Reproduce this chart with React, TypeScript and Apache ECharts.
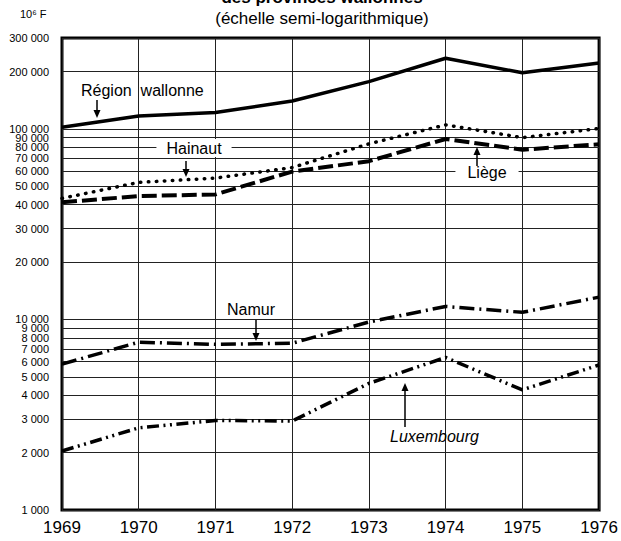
import React, { useEffect, useRef } from "react";
import * as echarts from "echarts";

const years = ["1969", "1970", "1971", "1972", "1973", "1974", "1975", "1976"];
const regionWallonne = [102000, 117000, 122000, 140000, 177000, 235000, 197000, 222000];
const hainaut = [43200, 52400, 55200, 62700, 83500, 105000, 90000, 100500];
const liege = [41200, 44400, 45300, 59700, 67700, 88500, 77800, 83000];
const namur = [5830, 7600, 7400, 7500, 9700, 11700, 10900, 13100];
const luxembourg = [2040, 2700, 2950, 2930, 4620, 6320, 4270, 5770];
const gridValues = [
  1000, 2000, 3000, 4000, 5000, 6000, 7000, 8000, 9000,
  10000, 20000, 30000, 40000, 50000, 60000, 70000, 80000, 90000,
  100000, 200000, 300000,
];

const FONT = '"Liberation Sans", Arial, Helvetica, sans-serif';

const fmt = (v: number) => String(v).replace(/\B(?=(\d{3})+(?!\d))/g, " ");

function arrow(x: number, yFrom: number, yTo: number) {
  const dir = yTo > yFrom ? 1 : -1;
  return [
    {
      type: "line",
      z: 100,
      shape: { x1: x, y1: yFrom, x2: x, y2: yTo - dir * 6 },
      style: { stroke: "#000", lineWidth: 1.5 },
    },
    {
      type: "polygon",
      z: 100,
      shape: { points: [[x - 3.5, yTo - dir * 8], [x + 3.5, yTo - dir * 8], [x, yTo]] },
      style: { fill: "#000" },
    },
  ];
}

function label(text: string, x: number, y: number, opts: any = {}) {
  return {
    type: "text",
    z: 100,
    x,
    y,
    style: {
      text,
      fontSize: opts.size || 16,
      fontFamily: FONT,
      fill: "#000",
      align: opts.align || "center",
      verticalAlign: "middle",
      backgroundColor: opts.bg ? "#fff" : undefined,
      padding: opts.bg ? [1, opts.pad || 6] : 0,
      fontStyle: opts.italic ? "italic" : "normal",
      fontWeight: opts.bold ? "bold" : "normal",
    },
  };
}

export default function App() {
  const ref = useRef<HTMLDivElement>(null);
  useEffect(() => {
    if (!ref.current) return;
    const chart = echarts.init(ref.current, null, { renderer: "svg" });
    const mk = (name: string, data: number[], type: any, width: number, cap: any = "butt", withGrid = false) => {
      const s: any = {
        name,
        type: "line",
        data,
        symbol: "none",
        lineStyle: { color: "#000", width, type, cap },
        z: 5,
      };
      if (withGrid) {
        s.markLine = {
          silent: true,
          symbol: ["none", "none"],
          z: 1,
          lineStyle: { type: "solid", color: "#222", width: 1 },
          label: {
            position: "start",
            distance: 13,
            formatter: (p: any) => fmt(p.value),
            fontSize: 11,
            fontFamily: FONT,
            color: "#000",
          },
          emphasis: { disabled: true },
          data: gridValues.map((v) => ({ yAxis: v })),
        };
      }
      return s;
    };
    chart.setOption({
      animation: false,
      backgroundColor: "#fff",
      grid: {
        left: 62,
        right: 21,
        top: 38,
        bottom: 31,
        show: true,
        borderColor: "#000",
        borderWidth: 3,
        backgroundColor: "transparent",
      },
      xAxis: {
        type: "category",
        data: years,
        boundaryGap: false,
        axisLine: { show: false },
        axisTick: { show: false },
        axisLabel: { color: "#000", fontSize: 17, fontFamily: FONT, margin: 9 },
        splitLine: { show: true, lineStyle: { color: "#222", width: 1 } },
      },
      yAxis: {
        type: "log",
        logBase: 10,
        min: 1000,
        max: 300000,
        axisLine: { show: false },
        axisTick: { show: false },
        axisLabel: { show: false },
        splitLine: { show: false },
      },
      series: [
        mk("Région wallonne", regionWallonne, "solid", 3.5, "butt", true),
        mk("Hainaut", hainaut, [0.5, 7.5], 3.5, "round"),
        mk("Liège", liege, [15, 5], 4),
        mk("Namur", namur, [15, 5, 2, 5], 3.5),
        mk("Luxembourg", luxembourg, [12, 4.5, 2, 4.5, 2, 4.5], 3.5),
      ],
      graphic: [
        label("des provinces wallonnes", 322, -3, { bold: true, size: 17 }),
        label("(échelle semi-logarithmique)", 322, 18, { size: 17 }),
        label("10⁶ F", 20, 14, { align: "left", size: 11 }),
        label("Région  wallonne", 81, 90, { align: "left" }),
        ...arrow(97, 100, 118),
        label("Hainaut", 194, 148, { bg: true, pad: 10 }),
        ...arrow(186, 161, 177),
        label("Liège", 487, 172, { bg: true, pad: 12 }),
        ...arrow(477, 166, 147),
        label("Namur", 251, 309),
        ...arrow(256, 320, 341),
        label("Luxembourg", 390, 436, { align: "left", italic: true }),
        ...arrow(405, 427, 383),
      ],
    });
    return () => chart.dispose();
  }, []);
  return (
    <div
      ref={ref}
      style={{ position: "fixed", left: 0, top: 0, width: 621, height: 541, background: "#fff" }}
    />
  );
}
